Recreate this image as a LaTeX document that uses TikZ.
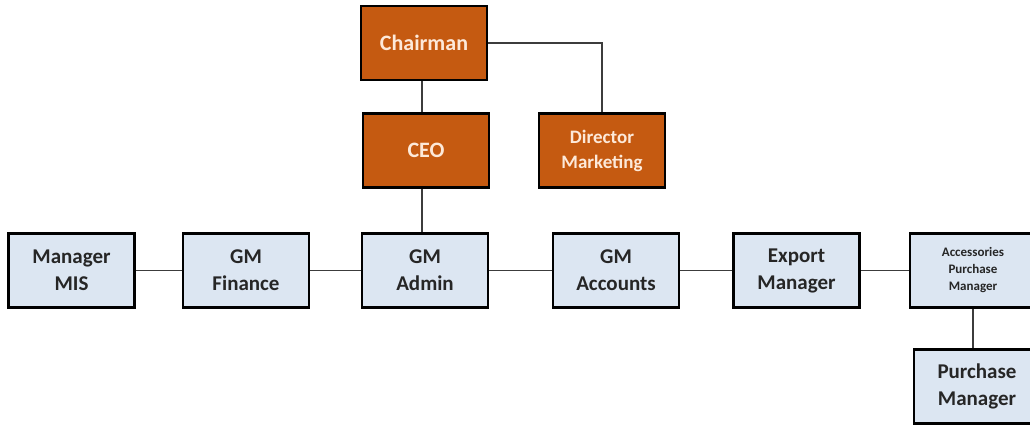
\documentclass[tikz,border=0pt]{standalone}
\usepackage{fontspec}
\setmainfont{Carlito}
\definecolor{execfill}{RGB}{197,90,17}
\definecolor{exectext}{RGB}{253,233,217}
\definecolor{staffill}{RGB}{220,230,242}
\definecolor{stafftext}{RGB}{38,38,38}
\definecolor{linkgray}{RGB}{60,60,60}
\begin{document}
\begin{tikzpicture}[x=1pt,y=-1pt,
  box/.style={draw=black, line width=2.6pt, minimum width=126pt, minimum height=74pt,
    align=center, inner sep=2pt},
  exec/.style={box, fill=execfill, text=exectext, font=\bfseries\fontsize{19}{25}\selectfont},
  bigexec/.style={exec, font=\bfseries\fontsize{22}{26}\selectfont},
  staff/.style={box, fill=staffill, text=stafftext, font=\bfseries\fontsize{21}{27}\selectfont},
  link/.style={draw=linkgray, line width=1.3pt}]
\useasboundingbox (0,0) rectangle (1030,425);
\fill[white] (0,0) rectangle (1030,425);

% executive level
\node[bigexec] (chair) at (424,43) {Chairman};
\node[bigexec] (ceo) at (426,150.5) {CEO};
\node[exec] (dir) at (602,150.5) {Director\\Marketing};

% management row
\node[staff] (mis) at (71.5,270.5) {Manager\\MIS};
\node[staff] (fin) at (246,270.5) {GM\\Finance};
\node[staff] (adm) at (425,270.5) {GM\\Admin};
\node[staff] (acc) at (616,270.5) {GM\\Accounts};
\node[staff] (exp) at (796.5,270.5) {Export\\Manager};
\node[staff, font=\bfseries\fontsize{13}{17}\selectfont] (apm) at (973,270.5) {Accessories\\Purchase\\Manager};
\node[staff] (pm) at (977,386.5) {Purchase\\Manager};

% reporting lines
\coordinate (trunk) at (422,0);
\draw[link] (chair.south -| trunk) -- (ceo.north -| trunk);
\draw[link] (chair.east) -| (dir.north);
\draw[link] (ceo.south -| trunk) -- (adm.north -| trunk);
\draw[link] (mis.east) -- (fin.west);
\draw[link] (fin.east) -- (adm.west);
\draw[link] (adm.east) -- (acc.west);
\draw[link] (acc.east) -- (exp.west);
\draw[link] (exp.east) -- (apm.west);
\draw[link] (apm.south) -- (apm.south |- pm.north);
\end{tikzpicture}
\end{document}
